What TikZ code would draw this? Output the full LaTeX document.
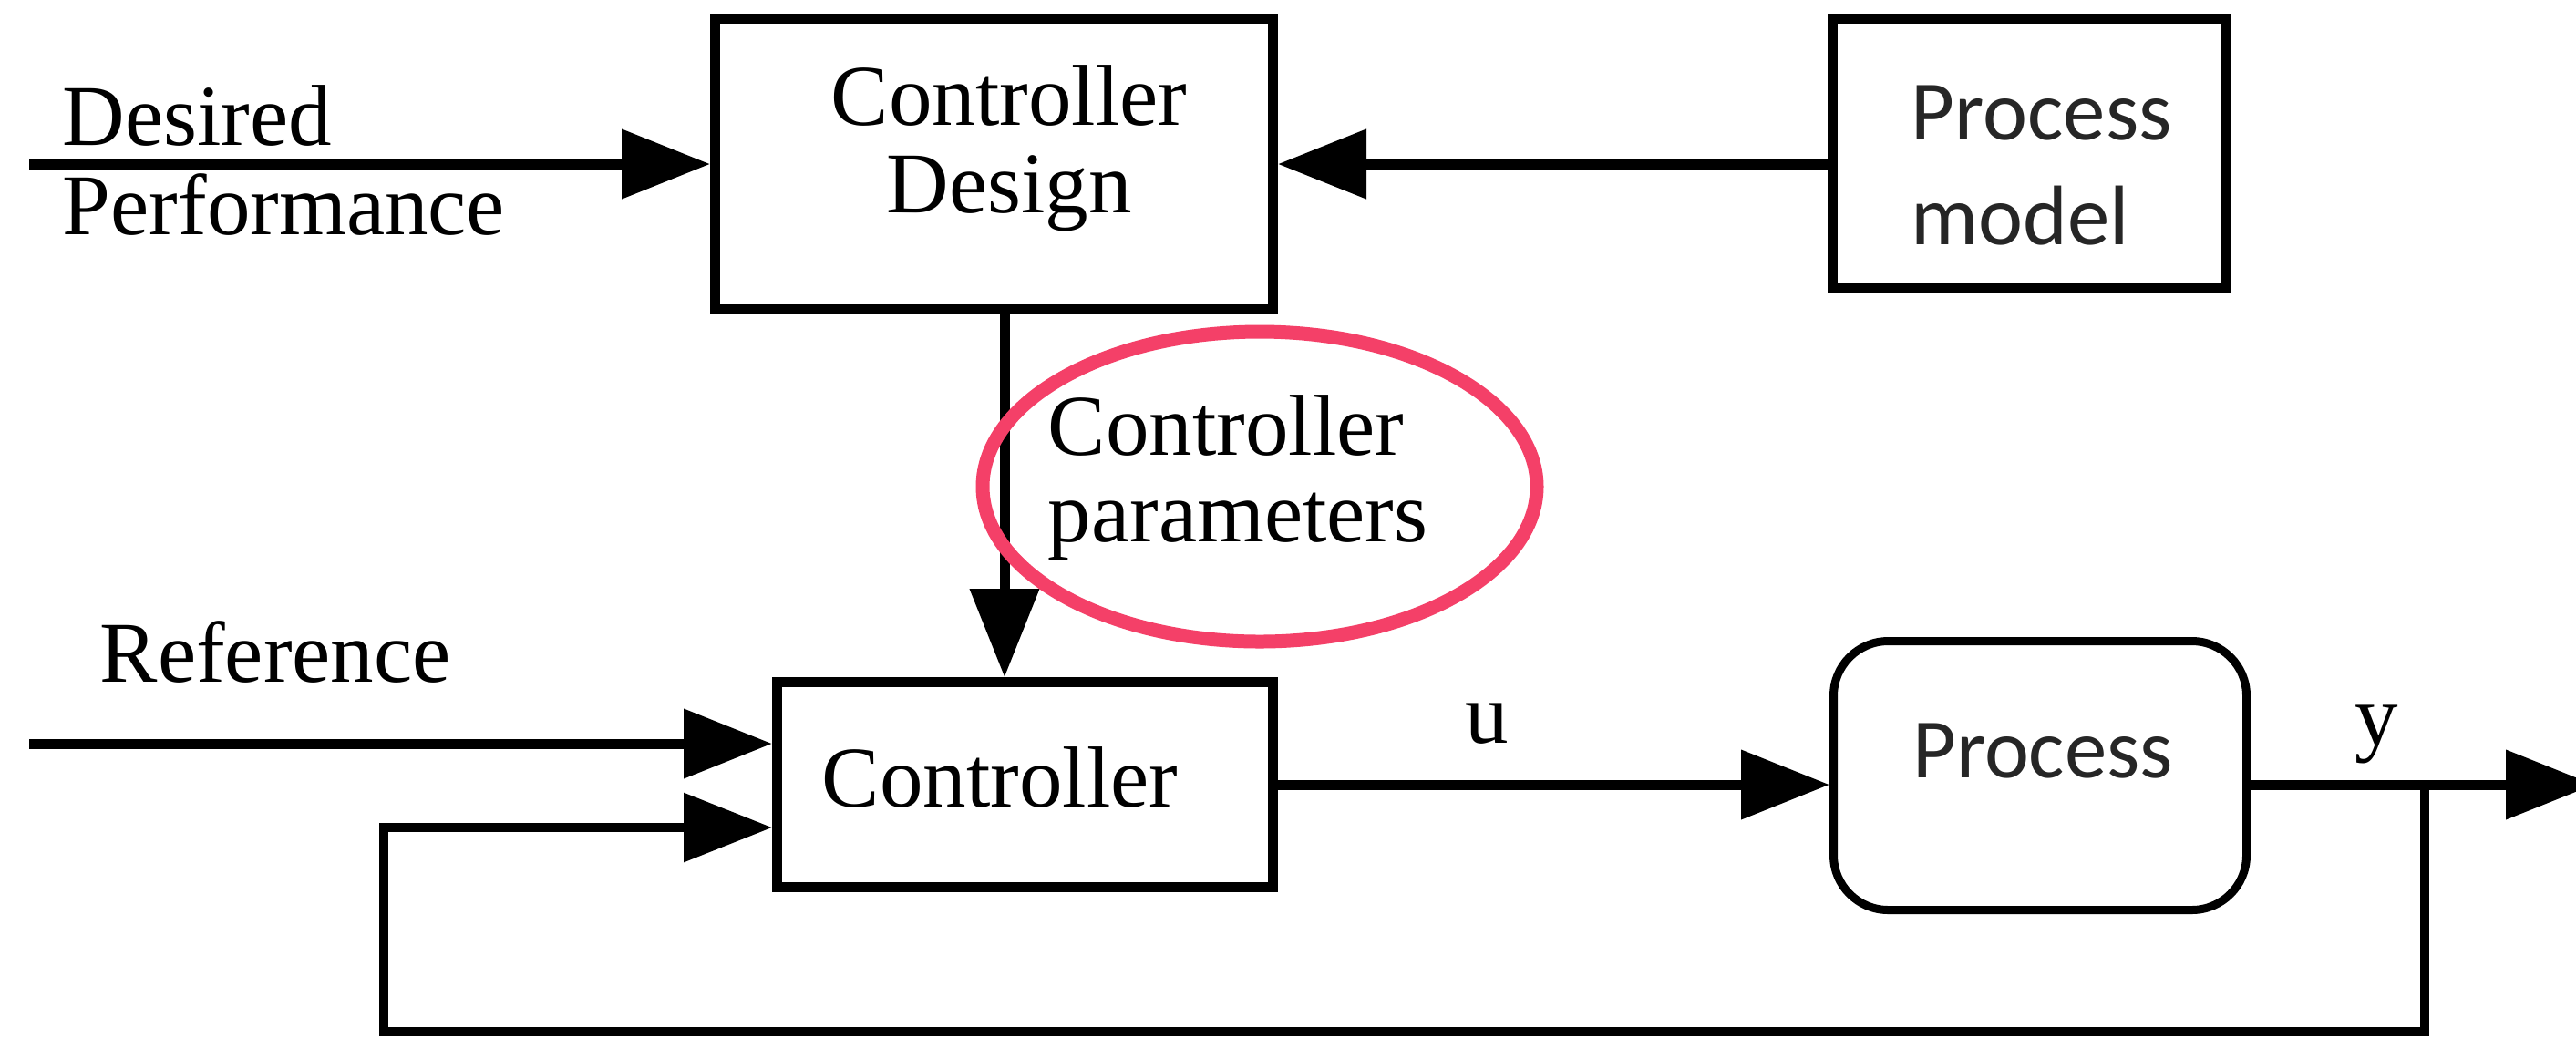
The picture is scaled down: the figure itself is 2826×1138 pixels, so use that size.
\documentclass[tikz,border=0pt]{standalone}
\usepackage{fontspec}
\setmainfont{Liberation Serif}
\newfontfamily\calibrifont{Carlito}
\usetikzlibrary{arrows.meta}
\definecolor{hilite}{RGB}{244,64,104}
\definecolor{sanstext}{RGB}{38,38,38}
\begin{document}
\begin{tikzpicture}[x=0.25pt,y=-0.25pt,
  blockbox/.style={draw,line width=2.75pt,inner sep=0pt,fill=white},
  roundbox/.style={draw,line width=2.25pt,inner sep=0pt,rounded corners=15pt,fill=white},
  flow/.style={line width=2.75pt,-{Triangle[length=24.25pt,width=18.5pt]}},
  feedback/.style={line width=2.4pt,-{Triangle[length=24.25pt,width=18.5pt]}},
  serifmain/.style={font=\fontsize{23.75pt}{24pt}\selectfont,inner sep=0pt},
  sansmain/.style={font=\calibrifont\fontsize{23.2pt}{28.75pt}\selectfont,text=sanstext,inner sep=0pt},
]
\useasboundingbox (0,0) rectangle (2826,1138);
\fill[white] (0,0) rectangle (2826,1138);
\clip (0,0) rectangle (2826,1138);

% blocks
\node[blockbox,minimum width=153pt,minimum height=79.75pt] (cd) at (1090.5,180) {};
\node[blockbox,minimum width=108pt,minimum height=74pt] (pm) at (2226.5,168.5) {};
\node[blockbox,minimum width=136pt,minimum height=56.25pt] (ctrl) at (1124.5,861) {};
\node[roundbox,minimum width=113.25pt,minimum height=73.75pt] (proc) at (2238,851) {};

% block texts (base anchor = baseline of the last line)
\node[serifmain,align=center,anchor=base] (cdtext) at (1107,233) {Controller\\Design};
\node[sansmain,align=left,anchor=base west] (pmtext) at (2096,268) {Process\\model};
\node[serifmain,anchor=base west] (ctrltext) at (901,885) {Controller};
\node[sansmain,anchor=base] (proctext) at (2241,853) {Process};

% signal labels
\node[serifmain,font=\fontsize{23.75pt}{24.5pt}\selectfont,align=left,anchor=base west] (desired) at (68,257) {Desired\\Performance};
\node[serifmain,anchor=base west] (reflabel) at (109,748) {Reference};
\node[serifmain,font=\fontsize{23.75pt}{23.75pt}\selectfont,align=left,anchor=base west] (params) at (1149,594) {Controller\\parameters};
\node[serifmain,anchor=base] (ulabel) at (1631,815) {u};
\node[serifmain,anchor=base] (ylabel) at (2607,817) {y};

% free ends of the signal lines
\coordinate (desin) at (32,180);
\coordinate (refin) at (32,816);
\coordinate (parx) at (1102,0);
\coordinate (yout) at (2846,861);
\coordinate (tap) at (2660,861);
\coordinate (fbcorner) at (421,1132);

% connectors
\draw[flow] (desin) -- (cd.west);
\draw[flow] (pm.west |- cd.east) -- (cd.east);
\draw[flow] (cd.south -| parx) -- (ctrl.north -| parx);
\draw[flow] (refin) -- (refin -| ctrl.west);
\draw[flow] (ctrl.east) -- (ctrl.east -| proc.west);
\draw[flow] (ctrl.east -| proc.east) -- (yout);
\draw[feedback] (tap) |- (fbcorner) |- ([yshift=-11.75pt]ctrl.west);

% highlight round the parameter label
\draw[hilite,line width=3.75pt] (1382,534) ellipse [x radius=76pt,y radius=42.5pt];
\end{tikzpicture}
\end{document}
